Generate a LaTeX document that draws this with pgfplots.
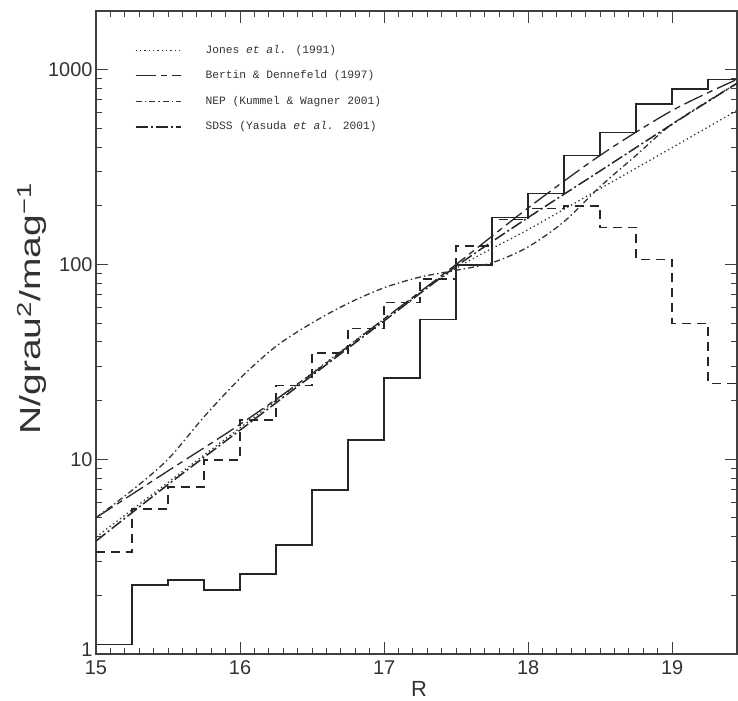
\documentclass[border=0pt]{standalone}
\usepackage{pgfplots}
\pgfplotsset{compat=1.18}
\usepackage{fontspec}
\setmainfont{Liberation Sans}
\newfontfamily\legfont{Liberation Mono}
\begin{document}
\begin{tikzpicture}
\path[use as bounding box] (-96bp,-47bp) rectangle (642bp,654bp);
\begin{axis}[
  at={(0,0)}, anchor=south west,
  scale only axis, width=641bp, height=643bp,
  xmin=15, xmax=19.45, ymin=1, ymax=2000,
  ymode=log,
  xtick={15,16,17,18,19}, xticklabels={15,16,17,18,19},
  minor x tick num=9,
  ytick={1,10,100,1000}, yticklabels={\raisebox{9bp}{1},10,100,1000},
  minor ytick={2,3,4,5,6,7,8,9,20,30,40,50,60,70,80,90,200,300,400,500,600,700,800,900,2000},
  tick align=inside, xtick pos=both, ytick pos=both,
  major tick length=12bp, minor tick length=6bp,
  axis line style={black!75, line width=1.5bp},
  every tick/.style={black!75, line width=1bp},
  ticklabel style={font=\fontsize{20}{20}\selectfont, text=black!80},
  xticklabel style={yshift=-3bp},
  xlabel={R}, ylabel={\scalebox{1.35}[1]{N/grau\textsuperscript{2}/mag\textsuperscript{−1}}},
  every axis x label/.style={at={(axis description cs:0.504,-0.055)}, anchor=center, inner sep=0pt, font=\fontsize{22}{22}\selectfont, text=black!80},
  every axis y label/.style={at={(axis description cs:-0.100,0.537)}, rotate=90, anchor=center, font=\fontsize{29}{29}\selectfont, text=black!80},
  legend style={at={(0.061,0.947)}, anchor=north west, draw=none, fill=none, inner sep=0pt, outer sep=0pt,
    font=\legfont\fontsize{11.3}{11.3}\selectfont, row sep=15bp, column sep=24bp,
    nodes={inner sep=0pt, text height=8bp, text depth=2.5bp, text=black!80}},
  legend image code/.code={\draw[#1] (0bp,0bp) -- (45bp,0bp);},
  legend cell align=left,
  no markers,
]
% solid histogram
\addplot[const plot, black!85, line width=1.8bp, forget plot] coordinates {
(15,1.12) (15.25,2.26) (15.5,2.4) (15.75,2.13) (16,2.57) (16.25,3.62) (16.5,6.93) (16.75,12.5)
(17,26.0) (17.25,52.2) (17.5,99) (17.75,174) (18,231) (18.25,362) (18.5,475) (18.75,669)
(19,799) (19.25,889) (19.5,889)};
% dashed histogram
\addplot[const plot, black!85, line width=1.5bp, dash pattern=on 9bp off 6bp, forget plot] coordinates {
(15,3.34) (15.25,5.54) (15.5,7.18) (15.75,9.88) (16,15.85) (16.25,23.9) (16.5,35) (16.75,47)
(17,63.8) (17.25,84) (17.5,124) (17.75,170) (18,194) (18.25,200) (18.5,155) (18.75,106)
(19,49.8) (19.25,24.5) (19.5,24.5)};
% Jones
\addplot[smooth, black!80, line width=1.3bp, dash pattern=on 1.3bp off 3bp] coordinates {
(15,3.98) (16,14.5) (17,52.5) (17.5,95.5) (18,151) (18.5,245) (19,398) (19.45,617)};
\addlegendentry{Jones \textit{et al.} (1991)}
% Bertin
\addplot[smooth, black!85, line width=1.3bp, dash pattern=on 20bp off 5bp on 6bp off 5bp] coordinates {
(15,5.01) (15.5,8.71) (16,15.1) (16.5,27.5) (17,52.5) (17.5,100) (18,195) (18.5,363) (19,617) (19.45,891)};
\addlegendentry{Bertin \& Dennefeld (1997)}
% NEP
\addplot[smooth, black!80, line width=1.3bp, dash pattern=on 6bp off 3bp on 1.5bp off 3bp] coordinates {
(15,5.01) (15.25,6.92) (15.5,10.0) (15.75,16.5) (16,26) (16.25,38.0) (16.5,50.1) (16.75,63.1)
(17,75.9) (17.25,86.1) (17.5,93.3) (17.75,102) (18,123) (18.25,166) (18.5,251) (18.75,363) (19,525) (19.45,851)};
\addlegendentry{NEP (Kummel \& Wagner 2001)}
% SDSS
\addplot[smooth, black!85, line width=1.5bp, dash pattern=on 12bp off 3bp on 2bp off 3bp] coordinates {
(15,3.80) (15.5,7.41) (16,14.1) (16.5,26.9) (17,51.3) (17.5,97.7) (18,174) (18.5,302) (19,525) (19.45,851)};
\addlegendentry{SDSS (Yasuda \textit{et al.} 2001)}
\end{axis}
\end{tikzpicture}
\end{document}
